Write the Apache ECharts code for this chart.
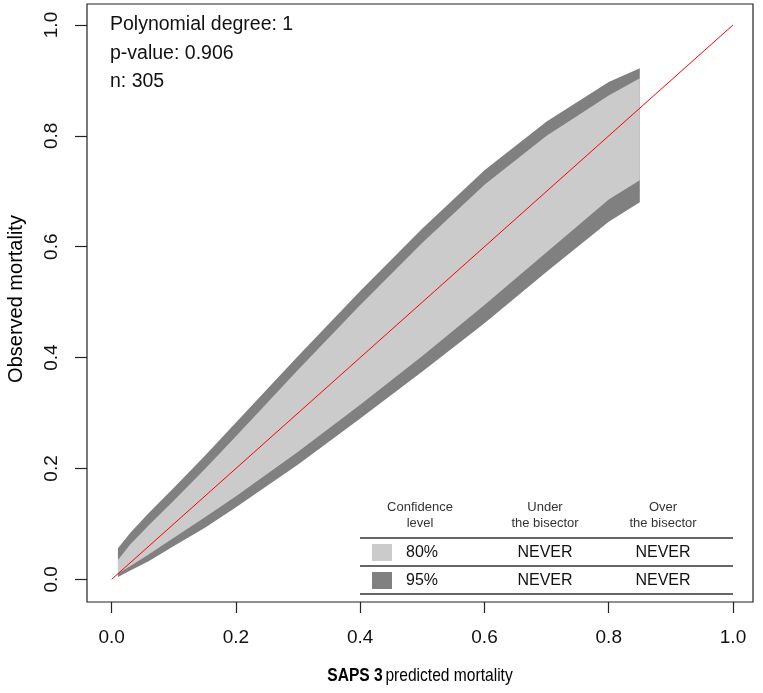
<!DOCTYPE html>
<html><head><meta charset="utf-8">
<script src="https://cdn.jsdelivr.net/npm/echarts@6/dist/echarts.min.js"></script>
<style>html,body{margin:0;padding:0;background:#fff}#c{width:763px;height:693px}</style>
</head><body><div id="c"></div>
<script>
// ---- data ----
const xGrid   = [0.01, 0.03, 0.06, 0.10, 0.15, 0.20, 0.30, 0.40, 0.50, 0.60, 0.70, 0.80, 0.85];
const upper95 = [0.056, 0.084, 0.120, 0.165, 0.223, 0.283, 0.403, 0.520, 0.633, 0.738, 0.826, 0.897, 0.922];
const upper80 = [0.035, 0.063, 0.098, 0.142, 0.199, 0.258, 0.378, 0.495, 0.607, 0.712, 0.800, 0.873, 0.904];
const lower80 = [0.010, 0.024, 0.045, 0.075, 0.112, 0.150, 0.230, 0.315, 0.403, 0.495, 0.590, 0.685, 0.720];
const lower95 = [0.004, 0.016, 0.033, 0.060, 0.093, 0.130, 0.207, 0.290, 0.375, 0.462, 0.555, 0.645, 0.680];
const bisectorX = [0, 1];
const bisectorY = [0, 1];
const tickValues = [0, 0.2, 0.4, 0.6, 0.8, 1.0];
const infoLines = ['Polynomial degree: 1', 'p-value: 0.906', 'n: 305'];
const tableHeaders = [['Confidence', 'level'], ['Under', 'the bisector'], ['Over', 'the bisector']];
const tableRows = [['80%', 'NEVER', 'NEVER'], ['95%', 'NEVER', 'NEVER']];

const FONT = "'Liberation Sans', Arial, sans-serif";
const LIGHT = '#cbcbcb', DARK = '#808080';

function bandSeries(up, lo, color) {
  return {
    type: 'custom',
    coordinateSystem: 'cartesian2d',
    data: [[xGrid[0], lo[0]]],
    silent: true,
    renderItem: function (params, api) {
      const pts = [];
      for (let i = 0; i < xGrid.length; i++) pts.push(api.coord([xGrid[i], up[i]]));
      for (let i = xGrid.length - 1; i >= 0; i--) pts.push(api.coord([xGrid[i], lo[i]]));
      return { type: 'polygon', shape: { points: pts }, style: { fill: color, stroke: null } };
    },
    z: 1
  };
}

const chart = echarts.init(document.getElementById('c'), null, { renderer: 'canvas' });

const graphics = [];
infoLines.forEach((t, i) => {
  graphics.push({ type: 'text', x: 110, y: 25 + i * 28.5,
    style: { text: t, font: '19.5px ' + FONT, fill: '#111', align: 'left', verticalAlign: 'middle' } });
});
const colX = [420, 545, 663];
tableHeaders.forEach((h, i) => {
  h.forEach((line, j) => {
    graphics.push({ type: 'text', x: colX[i], y: 507 + j * 16,
      style: { text: line, font: '13px ' + FONT, fill: '#333', align: 'center', verticalAlign: 'middle' } });
  });
});
[538, 566, 594].forEach(y => {
  graphics.push({ type: 'line', shape: { x1: 360, y1: y, x2: 733, y2: y }, style: { stroke: '#333', lineWidth: 1.5 } });
});
const rowY = [552, 580];
const rowColor = [LIGHT, DARK];
tableRows.forEach((r, i) => {
  graphics.push({ type: 'rect', shape: { x: 372, y: rowY[i] - 8, width: 20, height: 17 }, style: { fill: rowColor[i] } });
  graphics.push({ type: 'text', x: 406, y: rowY[i] + 1, style: { text: r[0], font: '16px ' + FONT, fill: '#111', align: 'left', verticalAlign: 'middle' } });
  graphics.push({ type: 'text', x: colX[1], y: rowY[i] + 1, style: { text: r[1], font: '16px ' + FONT, fill: '#111', align: 'center', verticalAlign: 'middle' } });
  graphics.push({ type: 'text', x: colX[2], y: rowY[i] + 1, style: { text: r[2], font: '16px ' + FONT, fill: '#111', align: 'center', verticalAlign: 'middle' } });
});
graphics.push({ type: 'text', x: 16, y: 299, rotation: Math.PI / 2,
  style: { text: 'Observed mortality', font: '20px ' + FONT, fill: '#000', align: 'center', verticalAlign: 'middle' } });
graphics.push({ type: 'text', x: 420, y: 676, scaleX: 0.82, scaleY: 1,
  style: { text: '{b|SAPS 3} {r|predicted mortality}', align: 'center', verticalAlign: 'middle',
    rich: { b: { font: 'bold 19px ' + FONT, fill: '#000' }, r: { font: '19px ' + FONT, fill: '#000' } } } });

chart.setOption({
  animation: false,
  backgroundColor: '#fff',
  grid: { left: 87, top: 4, right: 10, bottom: 91, show: true, borderColor: '#222', borderWidth: 1.2, backgroundColor: 'transparent', containLabel: false },
  xAxis: {
    type: 'value', min: -0.0398, max: 1.0322,
    axisLine: { show: false, onZero: false },
    splitLine: { show: false },
    axisTick: { show: true, length: 11, customValues: tickValues, lineStyle: { color: '#222', width: 1.2 } },
    axisLabel: { customValues: tickValues, formatter: v => v.toFixed(1), margin: 26, color: '#111', fontSize: 19, fontFamily: FONT }
  },
  yAxis: {
    type: 'value', min: -0.041, max: 1.0379,
    axisLine: { show: false, onZero: false },
    splitLine: { show: false },
    axisTick: { show: true, length: 12, customValues: tickValues, lineStyle: { color: '#222', width: 1.2 } },
    axisLabel: { customValues: tickValues, formatter: v => v.toFixed(1), margin: 26, rotate: 90, color: '#111', fontSize: 19, fontFamily: FONT }
  },
  series: [
    bandSeries(upper95, lower95, DARK),
    bandSeries(upper80, lower80, LIGHT),
    {
      type: 'line', data: bisectorX.map((x, i) => [x, bisectorY[i]]),
      symbol: 'none', lineStyle: { color: '#ff0000', width: 1 }, z: 3, silent: true
    }
  ],
  graphic: graphics
});
</script></body></html>
